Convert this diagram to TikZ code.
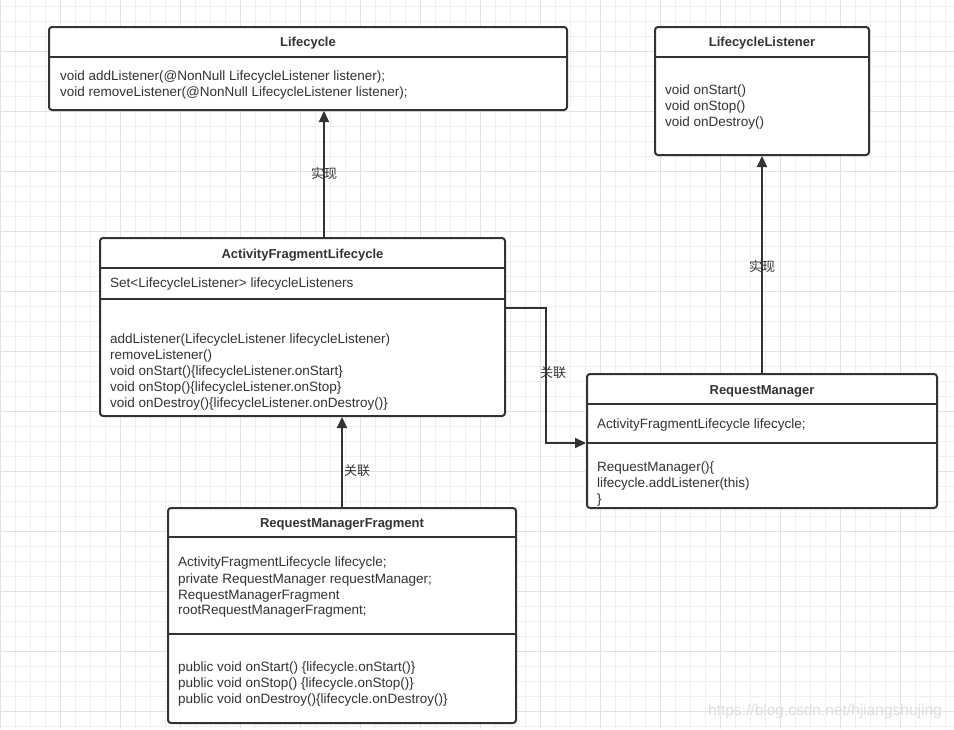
\documentclass[tikz,border=0pt]{standalone}
\usepackage{fontspec}
\setmainfont{Liberation Sans}
\newfontfamily\cjk{Noto Sans CJK SC}
\usetikzlibrary{arrows.meta}
\definecolor{ink}{HTML}{333333}
\definecolor{minorgrid}{HTML}{EFEFEF}
\definecolor{majorgrid}{HTML}{E2E2E2}
\tikzset{
  classbox/.style={draw=ink, line width=2pt, rounded corners=3pt, fill=white, inner sep=0pt},
  divider/.style={draw=ink, line width=2pt},
  title/.style={font=\fontsize{13}{15}\selectfont\bfseries, text=ink, inner sep=0pt},
  body/.style={font=\fontsize{13.5}{16}\selectfont, text=ink, align=left, inner sep=0pt, anchor=west},
  conn/.style={draw=ink, line width=2pt, -{Triangle[length=11pt,width=10pt]}},
  lab/.style={font=\cjk\fontsize{13}{15}\selectfont, text=ink, inner sep=1pt},
}
\begin{document}
\begin{tikzpicture}[x=1pt,y=-1pt]
\useasboundingbox (0,0) rectangle (954,729);
\fill[white] (0,0) rectangle (954,729);
% grid
\foreach \x in {0,15,...,954} \draw[minorgrid, line width=1pt] (\x,0) -- (\x,729);
\foreach \y in {6,21,...,729} \draw[minorgrid, line width=1pt] (0,\y) -- (954,\y);
\foreach \x in {0,60,...,954} \draw[majorgrid, line width=1pt] (\x,0) -- (\x,729);
\foreach \y in {51,111,...,729} \draw[majorgrid, line width=1pt] (0,\y) -- (954,\y);

% Lifecycle
\node[classbox, minimum width=518pt, minimum height=83pt] (lc) at (308,68.5) {};
\draw[divider] (49,57) -- (567,57);
\node[title] (lct) at (308,43) {Lifecycle};
\node[body] (lcb) at (60,85.5) {void addListener(@NonNull LifecycleListener listener);\\void removeListener(@NonNull LifecycleListener listener);};

% LifecycleListener
\node[classbox, minimum width=214pt, minimum height=128pt] (ll) at (762,91) {};
\draw[divider] (655,57) -- (869,57);
\node[title] (llt) at (762,43) {LifecycleListener};
\node[body] (llb) at (665,107.5) {void onStart()\\void onStop()\\void onDestroy()};

% ActivityFragmentLifecycle
\node[classbox, minimum width=405pt, minimum height=178pt] (afl) at (302.5,327) {};
\draw[divider] (100,268) -- (505,268);
\draw[divider] (100,299) -- (505,299);
\node[title] (aflt) at (302.5,255) {ActivityFragmentLifecycle};
\node[body] (afla) at (110,284.5) {Set<LifecycleListener> lifecycleListeners};
\node[body] (aflb) at (110,372.5) {addListener(LifecycleListener lifecycleListener)\\removeListener()\\void onStart()\{lifecycleListener.onStart\}\\void onStop()\{lifecycleListener.onStop\}\\void onDestroy()\{lifecycleListener.onDestroy()\}};

% RequestManager
\node[classbox, minimum width=350pt, minimum height=134pt] (rm) at (762,441) {};
\draw[divider] (587,404) -- (937,404);
\draw[divider] (587,443) -- (937,443);
\node[title] (rmt) at (762,391) {RequestManager};
\node[body] (rma) at (597,425.5) {ActivityFragmentLifecycle lifecycle;};
\node[body] (rmb) at (597,484.5) {RequestManager()\{\\lifecycle.addListener(this)\\\}};

% RequestManagerFragment
\node[classbox, minimum width=348pt, minimum height=215pt] (rmf) at (342,615.5) {};
\draw[divider] (168,537) -- (516,537);
\draw[divider] (168,634) -- (516,634);
\node[title] (rmft) at (342,524) {RequestManagerFragment};
\node[body] (rmfa) at (178,587.5) {ActivityFragmentLifecycle lifecycle;\\private RequestManager requestManager;\\RequestManagerFragment\\rootRequestManagerFragment;};
\node[body] (rmfb) at (178,683.5) {public void onStart() \{lifecycle.onStart()\}\\public void onStop() \{lifecycle.onStop()\}\\public void onDestroy()\{lifecycle.onDestroy()\}};

% connectors
\coordinate (c1) at (546,308);
\coordinate (c2) at (546,443);
\draw[conn] (afl.north -| 324,0) -- (lc.south -| 324,0) node[lab, pos=0.5] {实现};
\draw[conn] (rm.north) -- (ll.south) node[lab, pos=0.49] {实现};
\draw[conn] (rmf.north) -- (afl.south -| rmf.north) node[lab, pos=0.4, xshift=15pt] {关联};
\draw[conn] (505,308) -- (c1) -- (c2) -- (rm.west |- c2);
\node[lab] (l4) at (553,373) {关联};

% watermark
\node[font=\fontsize{15.5}{17}\selectfont, text=black!13, inner sep=0pt] (wm) at (825,711) {https://blog.csdn.net/hjiangshujing};
\end{tikzpicture}
\end{document}
